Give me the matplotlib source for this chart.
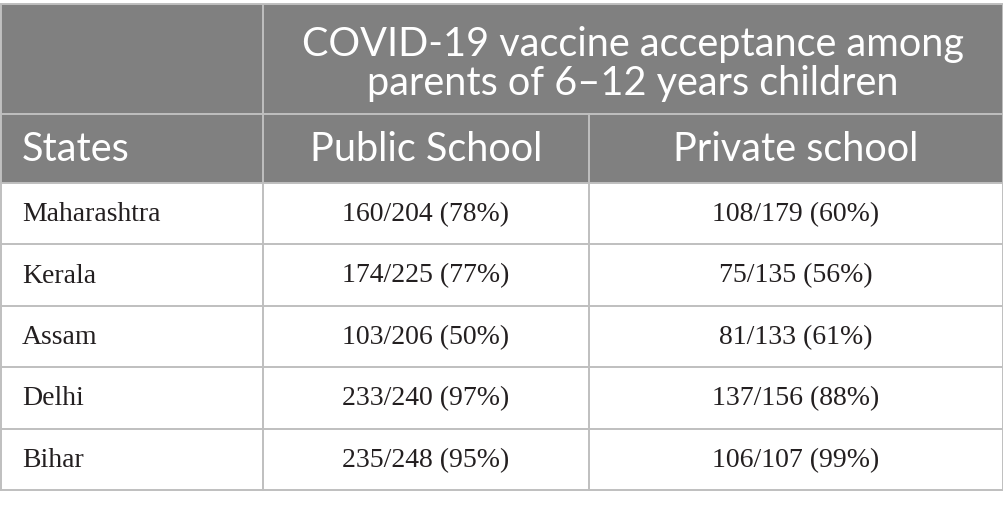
import matplotlib.pyplot as plt
from matplotlib.patches import Rectangle

# table content
states = ['Maharashtra', 'Kerala', 'Assam', 'Delhi', 'Bihar']
public_school = ['160/204 (78%)', '174/225 (77%)', '103/206 (50%)', '233/240 (97%)', '235/248 (95%)']
private_school = ['108/179 (60%)', '75/135 (56%)', '81/133 (61%)', '137/156 (88%)', '106/107 (99%)']
group_title = 'COVID-19 vaccine acceptance among\nparents of 6\u201312 years children'
col_titles = ['States', 'Public School', 'Private school']

W, H = 1004, 508
fig = plt.figure(figsize=(W / 100, H / 100), dpi=100)
ax = fig.add_axes([0, 0, 1, 1])
ax.set_xlim(0, W)
ax.set_ylim(H, 0)
ax.axis('off')

# layout in pixels
x_edges = [1, 263, 589, 1003]
top = 4
head1 = 114
head2 = 183
bottom = 490
row_h = (bottom - head2) / len(states)

header_bg = '#808080'
grid_col = '#bfbfbf'
text_col = '#231f20'
head_font = 'Lato'
body_font = 'Liberation Serif'
head_size = 28.5
body_size = 20

# header background
ax.add_patch(Rectangle((x_edges[0], top), x_edges[-1] - x_edges[0], head2 - top,
                       facecolor=header_bg, edgecolor='none'))

# header text
ax.text((x_edges[1] + x_edges[3]) / 2, (top + head1) / 2 + 5, group_title,
        ha='center', va='center', color='white', fontsize=head_size,
        family=head_font, linespacing=1.08)
ax.text(22, (head1 + head2) / 2 + 1, col_titles[0], ha='left', va='center',
        color='white', fontsize=head_size, family=head_font)
for i in (1, 2):
    ax.text((x_edges[i] + x_edges[i + 1]) / 2, (head1 + head2) / 2 + 1, col_titles[i],
            ha='center', va='center', color='white', fontsize=head_size,
            family=head_font)

# body text
for r, (s, pub, pri) in enumerate(zip(states, public_school, private_school)):
    yc = head2 + (r + 0.5) * row_h + 1
    ax.text(22, yc, s, ha='left', va='center', color=text_col,
            fontsize=body_size, family=body_font)
    ax.text((x_edges[1] + x_edges[2]) / 2, yc, pub, ha='center', va='center',
            color=text_col, fontsize=body_size, family=body_font)
    ax.text((x_edges[2] + x_edges[3]) / 2, yc, pri, ha='center', va='center',
            color=text_col, fontsize=body_size, family=body_font)

# grid lines
lw = 1.4
ax.plot([x_edges[0], x_edges[-1]], [top, top], color=grid_col, lw=lw)
ax.plot([x_edges[0], x_edges[-1]], [head1, head1], color=grid_col, lw=lw)
for r in range(len(states) + 1):
    y = head2 + r * row_h
    ax.plot([x_edges[0], x_edges[-1]], [y, y], color=grid_col, lw=lw)
ax.plot([x_edges[0], x_edges[0]], [top, bottom], color=grid_col, lw=lw)
ax.plot([x_edges[-1], x_edges[-1]], [top, bottom], color=grid_col, lw=lw)
ax.plot([x_edges[1], x_edges[1]], [top, bottom], color=grid_col, lw=lw)
ax.plot([x_edges[2], x_edges[2]], [head1, bottom], color=grid_col, lw=lw)

fig.savefig('out.png', dpi=100, facecolor='white')
